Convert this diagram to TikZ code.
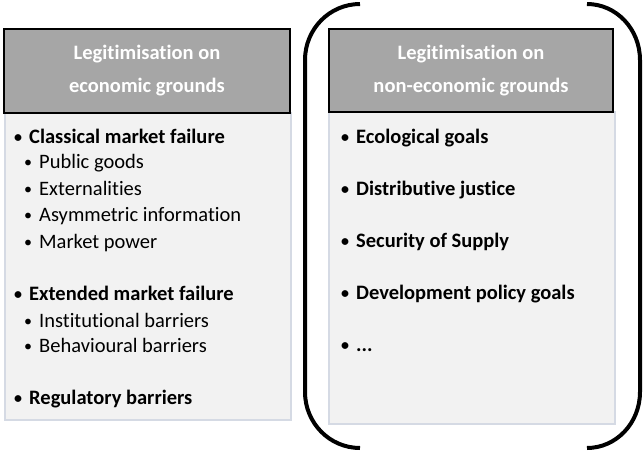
\documentclass[tikz,border=0pt]{standalone}
\usepackage{fontspec}
\setmainfont{Carlito}[Ligatures=NoCommon]
\usetikzlibrary{positioning, arrows.meta}

\definecolor{hdrgray}{HTML}{A6A6A6}
\definecolor{panelgray}{HTML}{F2F2F2}
\definecolor{paneledge}{HTML}{D5DAE4}

% smaller bullet in front of each entry
\newcommand{\bul}{\makebox[15pt][l]{\fontsize{16}{16}\selectfont\raisebox{0.5pt}{•}}}

\begin{document}
\begin{tikzpicture}[
x=1pt, y=-1pt,
font=\fontsize{20.5}{33}\selectfont,
header/.style={rectangle, draw=black, line width=2.5pt, fill=hdrgray, text=white, align=center, font=\fontsize{20.5}{33}\selectfont\bfseries, minimum width=286pt, minimum height=84pt},
panel/.style={rectangle, draw=paneledge, line width=2pt, fill=panelgray, minimum width=286pt},
item/.style={anchor=base west, inner sep=0pt},
mainitem/.style={item, font=\fontsize{20.5}{33}\selectfont\bfseries},
bracket/.style={line width=4pt}
]
\useasboundingbox (0,0) rectangle (643,453);

% Panels
\node[panel, minimum height=307pt] (econ_panel) at (148,266.5) {};
\node[panel, minimum height=312pt] (nonecon_panel) at (472,268) {};

% Headers
\node[header] (econ_head) at (147,71) {Legitimisation on\\economic grounds};
\node[header, minimum width=284pt, minimum height=83pt] (nonecon_head) at (471,70.5) {Legitimisation on\\non-economic grounds};

% Economic grounds
\node[mainitem] (classical) at (14,143) {\bul Classical market failure};
\node[item] (public) at (24,168) {\bul Public goods};
\node[item] (extern) at (24,195) {\bul Externalities};
\node[item] (asym) at (24,221) {\bul Asymmetric information};
\node[item] (power) at (24,248) {\bul Market power};
\node[mainitem] (extended) at (14,300) {\bul Extended market failure};
\node[item] (institut) at (24,327) {\bul Institutional barriers};
\node[item] (behav) at (24,352) {\bul Behavioural barriers};
\node[mainitem] (regul) at (14,404) {\bul Regulatory barriers};

% Non-economic grounds
\node[mainitem] (ecol) at (341,143) {\bul Ecological goals};
\node[mainitem] (distrib) at (341,195) {\bul Distributive justice};
\node[mainitem] (supply) at (341,247) {\bul Security of Supply};
\node[mainitem] (develop) at (341,299) {\bul Development policy goals};
\node[mainitem] (etc) at (341,351) {\bul ...};

% Brackets
\draw[bracket] (360,4) .. controls (329.6,4) and (305,29) .. (305,60)
  -- (305,392) .. controls (305,423) and (329.6,448) .. (360,448);
\draw[bracket] (587,4) .. controls (616.3,4) and (640,29) .. (640,60)
  -- (640,392) .. controls (640,423) and (616.3,448) .. (587,448);

\end{tikzpicture}
\end{document}
